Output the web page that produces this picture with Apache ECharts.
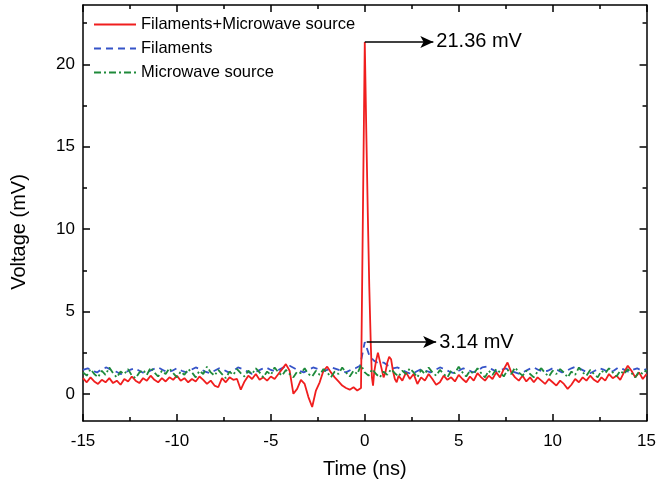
<!DOCTYPE html>
<html>
<head>
<meta charset="utf-8">
<script src="https://cdn.jsdelivr.net/npm/echarts@6/dist/echarts.min.js"></script>
<style>
  html, body { margin: 0; padding: 0; background: #fff; }
  #chart { width: 659px; height: 487px; }
</style>
</head>
<body>
<div id="chart"></div>
<script>
// series names (legend order)
const seriesNames = ['Filaments+Microwave source', 'Filaments', 'Microwave source'];

// Filaments+Microwave source: -15 .. -0.2 ns, step 0.2
const redPre = [
  0.95, 0.7, 1.0, 0.75, 0.6, 0.85, 0.7, 0.95, 0.65, 0.8,
  0.55, 0.9, 0.75, 1.05, 0.8, 0.65, 0.95, 0.8, 1.1, 0.85,
  0.7, 0.95, 0.75, 1.0, 0.85, 1.1, 0.8, 0.95, 0.7, 0.9,
  0.75, 1.05, 0.85, 0.6, 0.8, 0.5, 0.4, 0.95, 0.7, 1.0,
  0.85, 0.9, 0.25, 0.75, 1.1, 0.9, 1.2, 0.85, 1.0, 0.8,
  1.05, 0.9, 1.2, 1.5, 1.8, 1.4, 0.0, 0.3, 0.85, 0.6,
  -0.2, -0.8, 0.2, 0.7, 1.4, 1.65, 1.3, 1.0, 0.75, 0.5,
  0.35, 0.25, 0.4, 0.2, 0.35
];
// the pulse around 0 ns
const redPulseT = [0, 0.08, 0.16, 0.24, 0.32, 0.38, 0.44, 0.5, 0.6, 0.7, 0.8, 0.9, 1.0, 1.1, 1.2, 1.3, 1.4, 1.5, 1.6, 1.7, 1.8];
const redPulseV = [21.36, 16.0, 11.0, 6.5, 3.0, 1.0, 0.5, 1.3, 2.0, 2.5, 2.4, 1.5, 1.0, 1.3, 1.9, 2.25, 2.1, 1.4, 0.9, 0.7, 1.1];
// 2.0 .. 15 ns, step 0.2
const redPost = [
  0.8, 1.3, 0.9, 1.2, 0.6, 1.0, 0.8, 1.2, 0.9, 0.55,
  0.7, 1.1, 0.85, 1.0, 0.75, 1.15, 0.9, 0.7, 1.05, 0.8,
  1.25, 1.0, 0.8, 1.1, 0.9, 1.3, 1.0, 1.5, 1.9, 1.3,
  1.0, 0.8, 1.1, 0.75, 1.0, 0.7, 1.0, 0.8, 0.6, 0.9,
  0.7, 0.5, 0.8, 0.6, 0.3, 0.55, 0.9, 0.7, 1.0, 0.8,
  1.1, 0.85, 0.7, 1.0, 0.8, 1.2, 0.95, 1.1, 0.85, 1.3,
  1.7, 1.4, 1.0, 1.3, 0.9, 1.2
];

// Filaments: -15 .. 15 ns, step 0.25
const blueVals = [
  1.45, 1.55, 1.4, 1.3, 1.5, 1.6, 1.45, 1.35, 1.2, 1.3, 1.45, 1.55, 1.4, 1.25, 1.35, 1.5, 1.6, 1.45, 1.3, 1.4, 1.55,
  1.4, 1.3, 1.45, 1.6, 1.5, 1.35, 1.25, 1.4, 1.55, 1.45, 1.3, 1.4, 1.6, 1.5, 1.35, 1.2, 1.35, 1.5, 1.6, 1.45,
  1.35, 1.5, 1.65, 1.7, 1.55, 1.4, 1.3, 1.45, 1.6, 1.5, 1.35, 1.45, 1.6, 1.5, 1.4, 1.3, 1.45, 1.55, 1.7,
  3.14,
  2.3, 2.0, 1.85, 1.9, 1.7, 1.55, 1.6, 1.45, 1.3, 1.2, 1.35, 1.5, 1.4, 1.3, 1.45, 1.6, 1.5, 1.35, 1.25, 1.4,
  1.55, 1.45, 1.3, 1.4, 1.6, 1.65, 1.5, 1.35, 1.45, 1.55, 1.4, 1.3, 1.2, 1.35, 1.5, 1.6, 1.45, 1.35, 1.4, 1.55,
  1.45, 1.3, 1.4, 1.55, 1.65, 1.5, 1.35, 1.25, 1.4, 1.55, 1.45, 1.3, 1.4, 1.6, 1.5, 1.35, 1.45, 1.55, 1.4, 1.5
];

// Microwave source: -15 .. 15 ns, step 0.2
const greenVals = [
  1.3, 1.1, 1.5, 1.2, 1.0, 1.4, 1.15, 1.6, 1.25, 1.0,
  1.35, 1.2, 1.5, 1.1, 0.95, 1.3, 1.45, 1.15, 1.6, 1.3,
  1.05, 1.4, 1.2, 1.55, 1.25, 1.0, 1.35, 1.15, 1.5, 1.3,
  1.0, 1.4, 1.2, 1.65, 1.3, 1.1, 1.45, 1.2, 0.95, 1.35,
  1.15,
  1.5, 1.25, 1.05, 1.4, 1.2, 1.55, 1.3, 1.0, 1.35, 1.15,
  1.6, 1.3, 1.1, 1.45, 1.2, 1.0, 1.35, 1.25, 1.55, 1.2,
  1.05, 1.4, 1.15, 1.5, 1.3, 1.0, 1.35, 1.2, 1.6, 1.3,
  1.05, 1.4, 1.2, 1.75, 1.3,
  1.1, 1.5, 1.2, 1.0, 1.35, 1.15, 1.5, 1.25, 1.05, 1.4,
  1.2, 1.55, 1.3, 1.0, 1.45, 1.2, 1.6, 1.3, 1.1, 1.45,
  1.2, 1.0, 1.4, 1.25, 1.65, 1.3, 1.05, 1.4, 1.2, 1.55,
  1.25, 1.0, 1.4, 1.15, 1.5, 1.3, 1.05, 1.45, 1.2, 1.6,
  1.3, 1.1, 1.4, 1.2, 1.0, 1.35, 1.55, 1.25, 1.05, 1.4,
  1.2, 1.5, 1.3, 1.0, 1.35, 1.15, 1.6, 1.3, 1.1, 1.45,
  1.2, 1.0, 1.4, 1.25, 1.55, 1.3, 1.05, 1.4, 1.2, 1.5,
  1.25, 1.0, 1.35, 1.2, 1.45
];

// annotated peaks
const peakLabels = ['21.36 mV', '3.14 mV'];
const peakValues = [21.36, 3.14];

// ticks
const yMajorTicks = [0, 5, 10, 15, 20];
const yMinorTicks = [2.5, 7.5, 12.5, 17.5, 22.5];

function onGrid(vals, t0, step) {
  return vals.map((v, i) => [+(t0 + i * step).toFixed(3), v]);
}

const redData = onGrid(redPre, -15, 0.2)
  .concat(redPulseT.map((t, i) => [t, redPulseV[i]]))
  .concat(onGrid(redPost, 2.0, 0.2));
const blueData = onGrid(blueVals, -15, 0.25);
const greenData = onGrid(greenVals, -15, 0.2);

const FONT = 'Liberation Sans, Arial, sans-serif';
const chart = echarts.init(document.getElementById('chart'), null, { renderer: 'canvas' });

const black = { color: '#000', width: 1.5 };
const xCommon = {
  type: 'value', min: -15, max: 15, interval: 5,
  axisLine: { show: true, onZero: false, lineStyle: black },
  axisTick: { inside: true, length: 7, lineStyle: black },
  minorTick: { show: true, splitNumber: 2, length: 4, lineStyle: black },
  splitLine: { show: false }
};
const yCommon = {
  type: 'value', min: -1.65, max: 23.6,
  splitLine: { show: false }
};

chart.setOption({
  animation: false,
  backgroundColor: '#fff',
  grid: { left: 83, right: 9, top: 5, bottom: 66 },
  legend: {
    orient: 'vertical', left: 93, top: 16, padding: 0,
    itemWidth: 42, itemHeight: 16, itemGap: 7,
    itemStyle: { opacity: 0 },
    textStyle: { fontFamily: FONT, fontSize: 16.5, color: '#000' },
    data: seriesNames
  },
  xAxis: [
    Object.assign({}, xCommon, {
      position: 'bottom',
      name: 'Time (ns)', nameLocation: 'middle', nameGap: 38,
      nameTextStyle: { fontFamily: FONT, fontSize: 20, color: '#000' },
      axisLabel: { fontFamily: FONT, fontSize: 17, color: '#000', margin: 12 }
    }),
    Object.assign({}, xCommon, { position: 'top', axisLabel: { show: false } })
  ],
  yAxis: [
    Object.assign({}, yCommon, {
      position: 'left',
      axisLine: { show: true, onZero: false, lineStyle: black },
      name: 'Voltage (mV)', nameLocation: 'middle', nameGap: 54,
      nameTextStyle: { fontFamily: FONT, fontSize: 20, color: '#000', padding: [0, 38, 0, 0] },
      axisTick: { inside: true, length: 7, customValues: yMajorTicks, lineStyle: black },
      axisLabel: { fontFamily: FONT, fontSize: 17, color: '#000', margin: 8, customValues: yMajorTicks }
    }),
    Object.assign({}, yCommon, {
      position: 'left', axisLine: { show: false, onZero: false },
      axisTick: { inside: true, length: 4, customValues: yMinorTicks, lineStyle: black },
      axisLabel: { show: false }
    }),
    Object.assign({}, yCommon, {
      position: 'right',
      axisLine: { show: true, onZero: false, lineStyle: black },
      axisTick: { inside: true, length: 7, customValues: yMajorTicks, lineStyle: black },
      axisLabel: { show: false }
    }),
    Object.assign({}, yCommon, {
      position: 'right', axisLine: { show: false, onZero: false },
      axisTick: { inside: true, length: 4, customValues: yMinorTicks, lineStyle: black },
      axisLabel: { show: false }
    })
  ],
  series: [
    {
      name: seriesNames[0], type: 'line', data: redData, showSymbol: false, symbol: 'none',
      lineStyle: { color: '#f01e1e', width: 1.8 }, itemStyle: { color: '#f01e1e' },
      z: 3,
      markLine: {
        silent: true, symbol: ['none', 'arrow'], symbolSize: [9, 13],
        lineStyle: { color: '#000', width: 1.5, type: 'solid' },
        label: {
          show: true, position: 'end', distance: 3,
          fontFamily: FONT, fontSize: 20, color: '#000',
          formatter: p => p.data.labelText
        },
        data: [
          [{ coord: [0, peakValues[0]], labelText: peakLabels[0] }, { coord: [3.65, peakValues[0]], labelText: peakLabels[0] }],
          [{ coord: [0.1, peakValues[1]], labelText: peakLabels[1] }, { coord: [3.8, peakValues[1]], labelText: peakLabels[1] }]
        ]
      }
    },
    {
      name: seriesNames[1], type: 'line', data: blueData, showSymbol: false, symbol: 'none',
      lineStyle: { color: '#3553c8', width: 1.8, type: [7, 5] }, itemStyle: { color: '#3553c8' },
      z: 2
    },
    {
      name: seriesNames[2], type: 'line', data: greenData, showSymbol: false, symbol: 'none',
      lineStyle: { color: '#1e8a3a', width: 1.8, type: [7, 3, 2, 3] }, itemStyle: { color: '#1e8a3a' },
      z: 4
    }
  ]
});
</script>
</body>
</html>
